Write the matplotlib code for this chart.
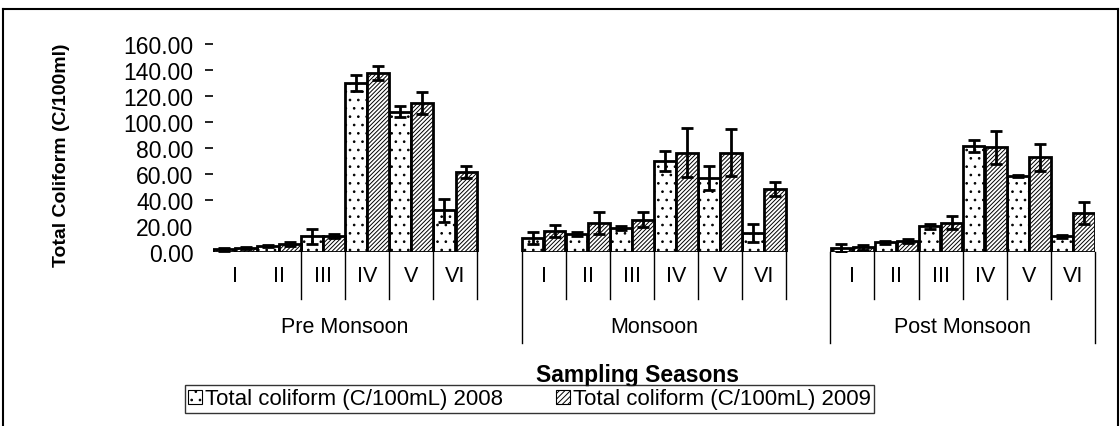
import matplotlib
matplotlib.use("Agg")
import matplotlib.pyplot as plt
from matplotlib.patches import Patch
from matplotlib.lines import Line2D
import numpy as np

plt.rcParams['font.family'] = ['Liberation Sans', 'DejaVu Sans']
plt.rcParams['hatch.linewidth'] = 0.7

seasons = ['Pre Monsoon', 'Monsoon', 'Post Monsoon']
sites = ['I', 'II', 'III', 'IV', 'V', 'VI']

# values per season, sites I..VI
tc2008 = [2, 4.5, 12, 130, 108, 32,
          11, 14, 18.5, 70, 57, 14.5,
          3, 7.5, 19.7, 81.5, 58.5, 12]
err2008 = [1, 1, 6, 6.5, 4.5, 9,
           4.6, 1.5, 1.2, 7.4, 9.4, 6.7,
           3.3, 1, 2, 4.7, 1, 1]
tc2009 = [3, 6, 12, 137.5, 114.5, 61.5,
          16, 22.5, 25, 76.5, 76.5, 48.5,
          3.5, 8.5, 22.5, 80.5, 73, 30]
err2009 = [1, 1.5, 1.5, 5.5, 8.7, 4.4,
           4.7, 8.6, 6, 19, 18, 5.6,
           2, 1.5, 5, 12.8, 10.4, 8.2]
yticks = [0, 20, 40, 60, 80, 100, 120, 140, 160]

W, H = 1120, 427
fig = plt.figure(figsize=(W / 100, H / 100), dpi=100)
ax = fig.add_axes([212.7 / W, 1 - 253 / H, (1095 - 212.7) / W, 208 / H])

# slot index: one empty slot between seasons
slots = np.array([g * 7 + i for g in range(3) for i in range(6)])
bw = 0.49
ax.bar(slots + 0.25, tc2008, bw, color='white', edgecolor='black',
       linewidth=2.0, hatch='..')
ax.bar(slots + 0.75, tc2009, bw, color='white', edgecolor='black',
       linewidth=2.0, hatch='////////')
ax.errorbar(slots + 0.25, tc2008, yerr=err2008, fmt='none', ecolor='black',
            elinewidth=2.0, capsize=4.5, capthick=2.0)
ax.errorbar(slots + 0.75, tc2009, yerr=err2009, fmt='none', ecolor='black',
            elinewidth=2.0, capsize=4.5, capthick=2.0)

ax.set_xlim(0, 20)
ax.set_ylim(0, 160)
ax.set_yticks(yticks)
ax.set_yticklabels(['%.2f' % v for v in yticks], fontsize=16.5)
ax.tick_params(axis='y', direction='out', length=6, width=1.2, pad=8)
for t in ax.yaxis.get_major_ticks()[:2]:
    t.tick1line.set_visible(False)
ax.set_xticks([])
for s in ax.spines.values():
    s.set_visible(False)

# multi-level category axis
tr = ax.get_xaxis_transform()
for g in range(3):
    for i in range(6):
        x = g * 7 + i
        ax.text(x + 0.5, -0.115, sites[i], transform=tr, ha='center',
                va='center', fontsize=15.5)
        if g == 0 and i < 2:
            continue
        y1 = -0.4375 if (i == 0) else -0.226
        ax.add_line(Line2D([x, x], [0, y1], transform=tr, color='black',
                           lw=1.0, clip_on=False))
    xe = g * 7 + 6
    y1 = -0.4375 if g == 2 else -0.226
    ax.add_line(Line2D([xe, xe], [0, y1], transform=tr, color='black',
                       lw=1.0, clip_on=False))
    ax.text(g * 7 + 3, -0.356, seasons[g], transform=tr, ha='center',
            va='center', fontsize=15.5)

fig.text(62 / W, 1 - 155 / H, 'Total Coliform (C/100ml)', rotation=90,
         ha='center', va='center', fontsize=14, fontweight='bold')
fig.text(638 / W, 1 - 376 / H, 'Sampling Seasons', ha='center',
         va='center', fontsize=16.5, fontweight='bold')

handles = [Patch(facecolor='white', edgecolor='black', hatch='..', lw=0.8),
           Patch(facecolor='white', edgecolor='black', hatch='//////', lw=0.8)]
leg = fig.legend(handles, ['Total coliform (C/100mL) 2008',
                           'Total coliform (C/100mL) 2009'],
                 loc='center', bbox_to_anchor=(529.5 / W, 1 - 400 / H),
                 ncol=2, fontsize=16, frameon=True, fancybox=False,
                 edgecolor='black', handlelength=0.6, handleheight=0.6,
                 handletextpad=0.15, columnspacing=2.4, borderpad=0.15,
                 borderaxespad=0)
leg.get_frame().set_linewidth(1.0)

# outer frame
fig.add_artist(Line2D([3 / W, 3 / W], [0, 1 - 10 / H], transform=fig.transFigure,
                      color='black', lw=1.5))
fig.add_artist(Line2D([3 / W, 1118 / W], [1 - 10 / H, 1 - 10 / H],
                      transform=fig.transFigure, color='black', lw=1.5))
fig.add_artist(Line2D([1118 / W, 1118 / W], [0, 1 - 10 / H],
                      transform=fig.transFigure, color='black', lw=1.5))

fig.savefig('out.png', dpi=100)
